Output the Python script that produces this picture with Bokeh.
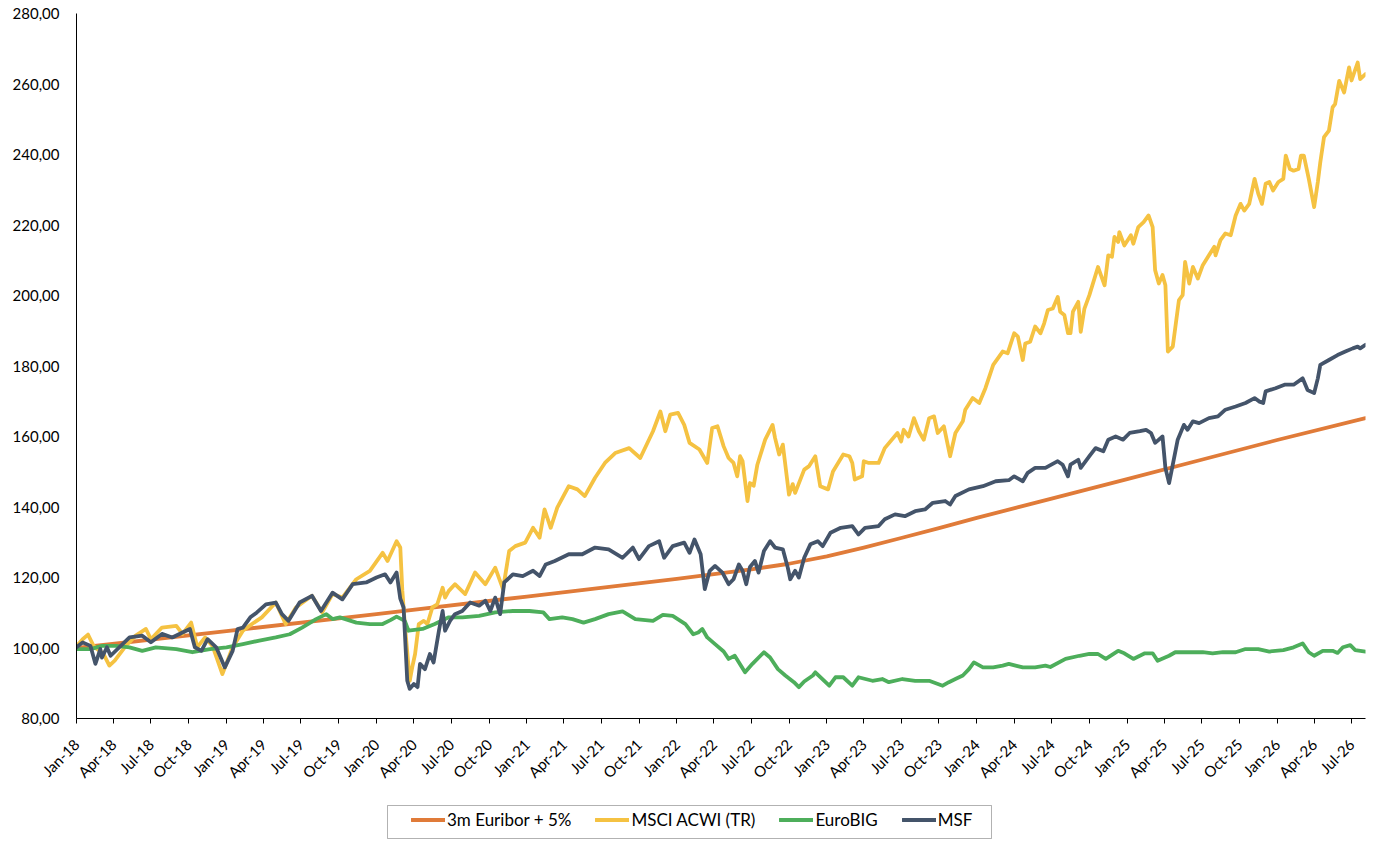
import math
import pandas as pd
from bokeh.plotting import figure
from bokeh.layouts import column
from bokeh.models import (Range1d, FixedTicker, DatetimeTickFormatter, CustomJSTickFormatter,
                          Legend, LegendItem, BoxAnnotation)
from bokeh.embed import file_html
from bokeh.resources import INLINE

# ---------------- data ----------------
series_names = ["3m Euribor + 5%", "MSCI ACWI (TR)", "EuroBIG", "MSF"]

euribor_dates = ["2018-01-01", "2019-01-01", "2020-01-01", "2021-01-01", "2022-01-01", "2022-07-01",
                 "2022-10-01", "2023-01-01", "2023-04-01", "2023-07-01", "2023-10-01", "2024-01-01",
                 "2024-07-01", "2025-01-01", "2025-07-01", "2026-01-01", "2026-08-04"]
euribor_values = [100.0, 104.8, 109.6, 114.6, 119.6, 122.3, 123.9, 126.0, 128.5, 131.2, 134.0, 136.9,
                  142.4, 147.9, 153.4, 159.0, 165.2]

msci_dates = [
    "2018-01-01", "2018-01-16", "2018-01-29", "2018-02-10", "2018-02-16", "2018-03-07", "2018-03-22",
    "2018-04-04", "2018-05-01", "2018-05-25", "2018-06-19", "2018-07-01", "2018-07-28", "2018-09-01",
    "2018-09-16", "2018-10-07", "2018-10-22", "2018-11-10", "2018-11-28", "2018-12-22", "2019-01-16",
    "2019-02-10", "2019-03-04", "2019-03-28", "2019-05-01", "2019-05-25", "2019-06-19", "2019-07-28",
    "2019-08-22", "2019-09-16", "2019-10-10", "2019-11-13", "2019-12-16", "2020-01-16", "2020-01-28",
    "2020-02-19", "2020-02-28", "2020-03-04", "2020-03-10", "2020-03-22", "2020-03-28", "2020-04-04",
    "2020-04-13", "2020-04-25", "2020-05-04", "2020-05-16", "2020-05-28", "2020-06-10", "2020-06-16",
    "2020-06-25", "2020-07-10", "2020-08-04", "2020-08-28", "2020-09-22", "2020-10-16", "2020-11-04",
    "2020-11-19", "2020-12-04", "2020-12-28", "2021-01-16", "2021-02-01", "2021-02-13", "2021-02-28",
    "2021-03-16", "2021-04-13", "2021-05-04", "2021-05-22", "2021-06-16", "2021-07-10", "2021-08-04",
    "2021-09-07", "2021-10-04", "2021-11-04", "2021-11-22", "2021-12-04", "2021-12-16", "2022-01-04",
    "2022-01-19", "2022-02-01", "2022-02-25", "2022-03-16", "2022-03-28", "2022-04-10", "2022-04-25",
    "2022-05-07", "2022-05-19", "2022-05-28", "2022-06-04", "2022-06-10", "2022-06-22", "2022-06-28",
    "2022-07-07", "2022-07-16", "2022-08-04", "2022-08-22", "2022-08-28", "2022-09-07", "2022-09-16",
    "2022-10-01", "2022-10-10", "2022-10-16", "2022-11-07", "2022-11-19", "2022-12-04", "2022-12-16",
    "2023-01-04", "2023-01-16", "2023-02-10", "2023-02-25", "2023-03-04", "2023-03-10", "2023-03-28",
    "2023-04-01", "2023-04-13", "2023-05-07", "2023-05-22", "2023-06-22", "2023-07-01", "2023-07-07",
    "2023-07-19", "2023-08-01", "2023-08-13", "2023-08-25", "2023-09-07", "2023-09-19", "2023-09-28",
    "2023-10-13", "2023-10-28", "2023-11-10", "2023-11-28", "2023-12-04", "2023-12-22", "2024-01-07",
    "2024-01-22", "2024-02-10", "2024-03-04", "2024-03-16", "2024-04-01", "2024-04-10", "2024-04-22",
    "2024-04-28", "2024-05-10", "2024-05-22", "2024-06-04", "2024-06-13", "2024-06-22", "2024-07-04",
    "2024-07-16", "2024-07-22", "2024-08-01", "2024-08-10", "2024-08-16", "2024-08-22", "2024-09-04",
    "2024-09-10", "2024-09-19", "2024-10-01", "2024-10-22", "2024-11-07", "2024-11-16", "2024-11-25",
    "2024-12-01", "2024-12-10", "2024-12-13", "2024-12-25", "2025-01-10", "2025-01-16", "2025-01-28",
    "2025-02-10", "2025-02-22", "2025-03-04", "2025-03-10", "2025-03-19", "2025-03-28", "2025-04-04",
    "2025-04-10", "2025-04-22", "2025-05-07", "2025-05-16", "2025-05-22", "2025-06-01", "2025-06-10",
    "2025-06-22", "2025-07-04", "2025-07-19", "2025-08-01", "2025-08-04", "2025-08-16", "2025-08-28",
    "2025-09-10", "2025-09-22", "2025-10-04", "2025-10-13", "2025-10-25", "2025-11-07", "2025-11-16",
    "2025-11-25", "2025-12-04", "2025-12-13", "2025-12-22", "2026-01-04", "2026-01-16", "2026-01-22",
    "2026-02-01", "2026-02-10", "2026-02-22", "2026-02-28", "2026-03-07", "2026-03-19", "2026-04-01",
    "2026-04-10", "2026-04-16", "2026-04-25", "2026-05-07", "2026-05-16", "2026-05-22", "2026-06-01",
    "2026-06-13", "2026-06-25", "2026-07-01", "2026-07-16", "2026-07-22", "2026-08-04"]
msci_values = [
    100.5, 102.5, 103.8, 101.0, 100.0, 98.5, 95.0,
    96.4, 100.6, 103.5, 105.4, 102.5, 105.8, 106.3,
    104.0, 107.2, 100.2, 103.0, 100.6, 92.6, 100.2,
    104.9, 106.8, 108.7, 112.9, 106.8, 111.5, 114.8,
    110.1, 115.3, 114.3, 119.5, 121.9, 127.0, 124.7,
    130.3, 128.5, 116.2, 106.8, 90.7, 94.5, 98.3,
    106.8, 107.7, 106.8, 111.5, 112.4, 117.1, 114.3,
    116.2, 118.1, 115.3, 121.4, 118.1, 122.8, 116.7,
    127.5, 128.9, 129.9, 134.1, 131.3, 139.3, 134.1,
    139.8, 145.9, 145.0, 143.1, 148.3, 152.5, 155.3,
    156.7, 153.9, 161.5, 167.1, 161.5, 166.2, 166.7,
    163.3, 158.2, 156.3, 152.5, 162.4, 162.9, 157.2,
    153.9, 152.5, 148.7, 154.4, 153.0, 141.7, 146.8,
    146.0, 152.0, 159.1, 163.3, 159.6, 154.9, 157.7,
    143.5, 146.5, 144.0, 150.6, 151.6, 154.4, 145.9,
    145.0, 150.1, 154.9, 154.4, 152.5, 147.8, 148.7,
    153.0, 152.5, 152.5, 156.7, 161.0, 158.6, 161.9,
    160.0, 165.2, 161.5, 159.1, 165.2, 165.7, 161.0,
    162.9, 154.4, 161.0, 164.3, 167.6, 170.9, 169.5,
    173.7, 180.3, 184.1, 183.6, 189.3, 188.3, 181.7,
    186.4, 186.9, 191.2, 189.3, 192.1, 195.9, 196.3,
    199.6, 195.4, 194.5, 189.3, 189.3, 195.4, 198.2,
    189.7, 196.3, 200.1, 208.1, 202.9, 211.4, 211.0,
    216.6, 215.2, 218.0, 214.2, 217.1, 214.7, 219.4,
    220.8, 222.7, 219.4, 207.2, 203.4, 205.8, 202.9,
    184.1, 185.5, 198.7, 200.1, 209.5, 203.4, 208.1,
    204.8, 208.6, 211.4, 213.8, 211.4, 215.7, 217.6,
    217.1, 222.7, 226.0, 224.1, 226.0, 233.1, 228.9,
    226.0, 231.7, 232.2, 229.8, 232.2, 233.1, 239.7,
    235.9, 235.4, 235.9, 239.7, 239.7, 233.1, 225.1,
    232.2, 237.8, 244.9, 246.8, 253.4, 254.3, 260.9,
    257.6, 264.7, 261.0, 266.1, 261.4, 262.8]

eurobig_dates = [
    "2018-01-01", "2018-02-04", "2018-03-04", "2018-04-07", "2018-05-10", "2018-06-10", "2018-07-13",
    "2018-09-01", "2018-10-10", "2018-11-22", "2019-01-01", "2019-02-10", "2019-03-22", "2019-05-01",
    "2019-06-04", "2019-07-04", "2019-08-07", "2019-09-01", "2019-09-16", "2019-10-04", "2019-11-13",
    "2019-12-16", "2020-01-16", "2020-02-04", "2020-02-19", "2020-03-10", "2020-03-19", "2020-04-22",
    "2020-05-22", "2020-06-25", "2020-07-28", "2020-09-07", "2020-10-16", "2020-11-28", "2021-01-07",
    "2021-02-10", "2021-02-25", "2021-03-28", "2021-04-22", "2021-05-19", "2021-06-16", "2021-07-19",
    "2021-08-22", "2021-09-22", "2021-11-04", "2021-11-28", "2021-12-22", "2022-01-22", "2022-02-10",
    "2022-02-22", "2022-03-04", "2022-03-16", "2022-04-04", "2022-04-25", "2022-05-07", "2022-05-22",
    "2022-06-16", "2022-07-04", "2022-08-01", "2022-08-16", "2022-09-04", "2022-09-22", "2022-10-13",
    "2022-10-25", "2022-11-07", "2022-11-28", "2022-12-04", "2023-01-07", "2023-01-22", "2023-02-10",
    "2023-03-04", "2023-03-19", "2023-04-22", "2023-05-16", "2023-06-01", "2023-07-04", "2023-08-04",
    "2023-09-07", "2023-10-10", "2023-10-25", "2023-11-10", "2023-11-28", "2023-12-13", "2023-12-25",
    "2024-01-16", "2024-02-10", "2024-03-04", "2024-03-19", "2024-04-22", "2024-05-22", "2024-06-16",
    "2024-06-28", "2024-08-04", "2024-09-07", "2024-10-01", "2024-10-22", "2024-11-10", "2024-12-10",
    "2024-12-25", "2025-01-16", "2025-02-13", "2025-03-04", "2025-03-16", "2025-04-13", "2025-04-28",
    "2025-06-01", "2025-07-04", "2025-07-28", "2025-08-22", "2025-09-22", "2025-10-16", "2025-11-16",
    "2025-12-13", "2026-01-16", "2026-02-10", "2026-03-04", "2026-03-19", "2026-04-01", "2026-04-22",
    "2026-05-16", "2026-05-28", "2026-06-10", "2026-06-28", "2026-07-10", "2026-08-04"]
eurobig_values = [
    99.7, 99.7, 100.6, 100.6, 100.2, 99.2, 100.2,
    99.7, 98.8, 99.7, 100.2, 101.1, 102.1, 103.0,
    103.9, 105.8, 108.2, 109.6, 108.2, 108.7, 107.2,
    106.8, 106.8, 107.9, 108.9, 107.7, 104.9, 105.4,
    106.8, 108.7, 108.7, 109.1, 110.1, 110.5, 110.5,
    110.1, 108.2, 108.7, 108.2, 107.2, 108.2, 109.6,
    110.4, 108.2, 107.7, 109.4, 109.1, 106.8, 103.9,
    104.4, 105.4, 103.0, 101.1, 99.0, 96.9, 97.8,
    93.1, 95.5, 98.8, 97.3, 94.0, 92.2, 90.3,
    88.9, 90.5, 92.2, 93.1, 89.3, 91.7, 91.7,
    89.3, 91.7, 90.7, 91.2, 90.3, 91.2, 90.7,
    90.7, 89.3, 90.3, 91.2, 92.2, 94.0, 95.9,
    94.5, 94.5, 95.0, 95.5, 94.5, 94.5, 95.0,
    94.6, 96.9, 97.8, 98.3, 98.3, 96.9, 99.2,
    98.5, 96.9, 98.5, 98.5, 96.4, 97.8, 98.8,
    98.8, 98.8, 98.5, 98.8, 98.8, 99.7, 99.7,
    99.0, 99.4, 100.2, 101.3, 98.8, 97.8, 99.2,
    99.2, 98.6, 100.2, 100.8, 99.4, 99.0]

msf_dates = [
    "2018-01-01", "2018-01-16", "2018-02-04", "2018-02-16", "2018-02-28", "2018-03-04", "2018-03-16",
    "2018-03-25", "2018-05-10", "2018-06-10", "2018-07-01", "2018-07-28", "2018-08-22", "2018-09-16",
    "2018-10-04", "2018-10-16", "2018-11-01", "2018-11-16", "2018-12-07", "2018-12-28", "2019-01-16",
    "2019-01-28", "2019-02-10", "2019-02-28", "2019-03-16", "2019-04-07", "2019-05-01", "2019-05-16",
    "2019-06-01", "2019-06-28", "2019-07-28", "2019-08-19", "2019-09-16", "2019-10-10", "2019-11-04",
    "2019-12-07", "2020-01-01", "2020-01-22", "2020-02-04", "2020-02-19", "2020-02-28", "2020-03-07",
    "2020-03-16", "2020-03-22", "2020-04-01", "2020-04-10", "2020-04-16", "2020-04-28", "2020-05-10",
    "2020-05-19", "2020-06-01", "2020-06-10", "2020-06-16", "2020-06-28", "2020-07-10", "2020-07-28",
    "2020-08-16", "2020-09-07", "2020-09-22", "2020-10-04", "2020-10-16", "2020-10-28", "2020-11-07",
    "2020-11-28", "2020-12-22", "2021-01-16", "2021-02-01", "2021-02-16", "2021-03-10", "2021-04-13",
    "2021-05-16", "2021-06-16", "2021-07-19", "2021-08-22", "2021-09-16", "2021-10-01", "2021-10-25",
    "2021-11-19", "2021-12-01", "2021-12-22", "2022-01-19", "2022-02-01", "2022-02-13", "2022-02-28",
    "2022-03-10", "2022-03-22", "2022-04-04", "2022-04-22", "2022-05-07", "2022-05-19", "2022-06-01",
    "2022-06-10", "2022-06-19", "2022-06-28", "2022-07-10", "2022-07-19", "2022-08-01", "2022-08-16",
    "2022-08-28", "2022-09-16", "2022-09-28", "2022-10-04", "2022-10-16", "2022-10-25", "2022-11-07",
    "2022-11-22", "2022-12-10", "2022-12-22", "2023-01-10", "2023-02-04", "2023-03-04", "2023-03-19",
    "2023-04-04", "2023-05-07", "2023-05-22", "2023-06-16", "2023-07-10", "2023-08-04", "2023-08-28",
    "2023-09-16", "2023-10-16", "2023-10-28", "2023-11-10", "2023-12-13", "2024-01-16", "2024-02-16",
    "2024-03-19", "2024-04-01", "2024-04-22", "2024-05-04", "2024-05-22", "2024-06-16", "2024-07-16",
    "2024-07-28", "2024-08-10", "2024-08-16", "2024-09-04", "2024-09-10", "2024-10-01", "2024-10-16",
    "2024-11-04", "2024-11-16", "2024-12-04", "2024-12-22", "2025-01-07", "2025-02-01", "2025-02-16",
    "2025-02-28", "2025-03-10", "2025-03-28", "2025-04-04", "2025-04-13", "2025-04-22", "2025-05-04",
    "2025-05-19", "2025-05-28", "2025-06-10", "2025-06-25", "2025-07-19", "2025-08-10", "2025-08-28",
    "2025-09-22", "2025-10-16", "2025-11-07", "2025-11-19", "2025-11-28", "2025-12-04", "2025-12-28",
    "2026-01-19", "2026-02-10", "2026-03-04", "2026-03-16", "2026-04-01", "2026-04-10", "2026-04-16",
    "2026-05-07", "2026-05-28", "2026-06-16", "2026-07-04", "2026-07-16", "2026-07-22", "2026-08-04"]
msf_values = [
    100.2, 101.6, 100.6, 95.5, 99.7, 97.3, 100.2,
    97.8, 103.0, 103.5, 101.6, 104.0, 103.0, 104.4,
    105.4, 100.2, 99.2, 102.5, 100.2, 94.5, 99.2,
    105.4, 105.8, 108.7, 110.1, 112.4, 112.9, 109.6,
    107.7, 112.9, 114.8, 110.5, 115.7, 113.8, 118.1,
    118.6, 120.0, 120.9, 118.6, 121.4, 114.0, 111.5,
    90.7, 88.4, 89.8, 88.9, 95.5, 94.0, 98.3,
    95.9, 104.9, 110.5, 104.9, 107.7, 109.6, 110.5,
    112.9, 112.0, 113.4, 110.5, 114.3, 109.6, 118.6,
    120.9, 120.4, 121.9, 120.4, 123.7, 124.7, 126.6,
    126.6, 128.5, 128.0, 125.6, 128.5, 125.2, 128.9,
    130.3, 125.6, 128.9, 129.9, 127.0, 130.8, 126.6,
    116.7, 121.9, 123.3, 121.4, 118.1, 119.5, 123.7,
    121.9, 118.1, 123.0, 124.7, 121.4, 127.5, 130.3,
    128.5, 128.0, 122.8, 119.5, 121.9, 120.0, 125.6,
    129.4, 130.3, 128.9, 132.7, 134.1, 134.6, 132.2,
    134.1, 134.6, 136.5, 137.9, 137.4, 138.8, 139.3,
    141.2, 141.7, 140.7, 143.1, 145.0, 145.9, 147.3,
    147.6, 148.7, 147.3, 149.7, 151.1, 151.1, 153.0,
    152.0, 148.7, 152.0, 153.4, 151.1, 154.4, 156.7,
    155.8, 159.1, 160.0, 159.1, 161.0, 161.5, 161.9,
    161.0, 158.2, 160.0, 151.1, 146.8, 152.0, 159.1,
    163.3, 161.9, 164.3, 163.8, 165.2, 165.7, 167.6,
    168.5, 169.5, 170.9, 169.9, 169.5, 172.8, 173.7,
    174.7, 174.7, 176.5, 173.2, 172.3, 176.5, 180.3,
    181.7, 183.1, 184.1, 185.0, 185.5, 185.0, 186.0]

series_colors = ["#E07B39", "#F5C242", "#4DAE5B", "#44546A"]

y_ticks = [80, 100, 120, 140, 160, 180, 200, 220, 240, 260, 280]
x_tick_dates = pd.date_range("2018-01-01", "2026-07-01", freq="QS").strftime("%Y-%m-%d").tolist()

# ---------------- main chart ----------------
FONT = "Lato"
W = 1380
H_MAIN, H_LEG = 790, 52
LW = 3.8
LEFT, RIGHT = 76, 15

p = figure(width=W, height=H_MAIN, output_backend="svg", toolbar_location=None,
           x_axis_type="datetime",
           x_range=Range1d(pd.Timestamp("2018-01-01"), pd.Timestamp("2026-08-04")),
           y_range=Range1d(80, 280),
           min_border_left=LEFT, min_border_right=RIGHT, min_border_top=13, min_border_bottom=72)
p.outline_line_color = None
p.xgrid.visible = False
p.ygrid.visible = False

all_series = [
    (euribor_dates, euribor_values),
    (msci_dates, msci_values),
    (eurobig_dates, eurobig_values),
    (msf_dates, msf_values),
]
for (d, v), c in zip(all_series, series_colors):
    p.line(pd.to_datetime(d), v, line_color=c, line_width=LW, line_join="round", line_cap="round")

xa = p.xaxis[0]
xa.ticker = FixedTicker(ticks=[pd.Timestamp(t).value / 1e6 for t in x_tick_dates])
fmt = "%b-%y"
xa.formatter = DatetimeTickFormatter(microseconds=fmt, milliseconds=fmt, seconds=fmt, minsec=fmt,
                                     minutes=fmt, hourmin=fmt, hours=fmt, days=fmt, months=fmt, years=fmt)
xa.major_label_orientation = math.pi / 4
xa.major_tick_out = 5
xa.major_tick_in = 0
xa.minor_tick_out = 0
xa.minor_tick_in = 0
xa.axis_line_color = "black"
xa.major_tick_line_color = "black"
xa.major_label_text_font = FONT
xa.major_label_text_font_size = "15px"
xa.major_label_text_color = "black"
xa.major_label_standoff = 18

ya = p.yaxis[0]
ya.ticker = FixedTicker(ticks=y_ticks)
ya.formatter = CustomJSTickFormatter(code="return tick.toFixed(2).replace('.', ',');")
ya.major_tick_out = 0
ya.major_tick_in = 0
ya.minor_tick_out = 0
ya.minor_tick_in = 0
ya.axis_line_color = "black"
ya.major_label_text_font = FONT
ya.major_label_text_font_size = "15px"
ya.major_label_text_color = "black"
ya.major_label_standoff = 17

# ---------------- legend strip (frame aligned with the main chart: data x = page px) ----------------
leg = figure(width=W, height=H_LEG, output_backend="svg", toolbar_location=None,
             x_range=Range1d(LEFT, W - RIGHT), y_range=Range1d(0, H_LEG),
             x_axis_location=None, y_axis_location=None,
             min_border_left=LEFT, min_border_right=RIGHT, min_border_top=0, min_border_bottom=0)
leg.outline_line_color = None
leg.xgrid.visible = False
leg.ygrid.visible = False

# legend samples: invisible (NaN) line renderers styled like the series
nan = float("nan")
sample_renderers = [leg.line([nan], [nan], line_color=c, line_width=LW, line_cap="round")
                    for c in series_colors]
items = [LegendItem(label=n, renderers=[r]) for n, r in zip(series_names, sample_renderers)]
legend = Legend(items=items, orientation="horizontal", location=(411 - LEFT, 12),
                label_text_font=FONT, label_text_font_size="17px", label_text_color="black",
                glyph_width=34, glyph_height=17, label_height=17, label_standoff=2, spacing=24,
                padding=0, border_line_color=None, background_fill_alpha=0, margin=0)
leg.add_layout(legend, "center")

frame_box = BoxAnnotation(left=387, right=991, bottom=4, top=37,
                          fill_alpha=0, line_color="black", line_width=1)
leg.add_layout(frame_box)

layout = column(p, leg, spacing=0)
open("out.html", "w").write(file_html(layout, INLINE))
